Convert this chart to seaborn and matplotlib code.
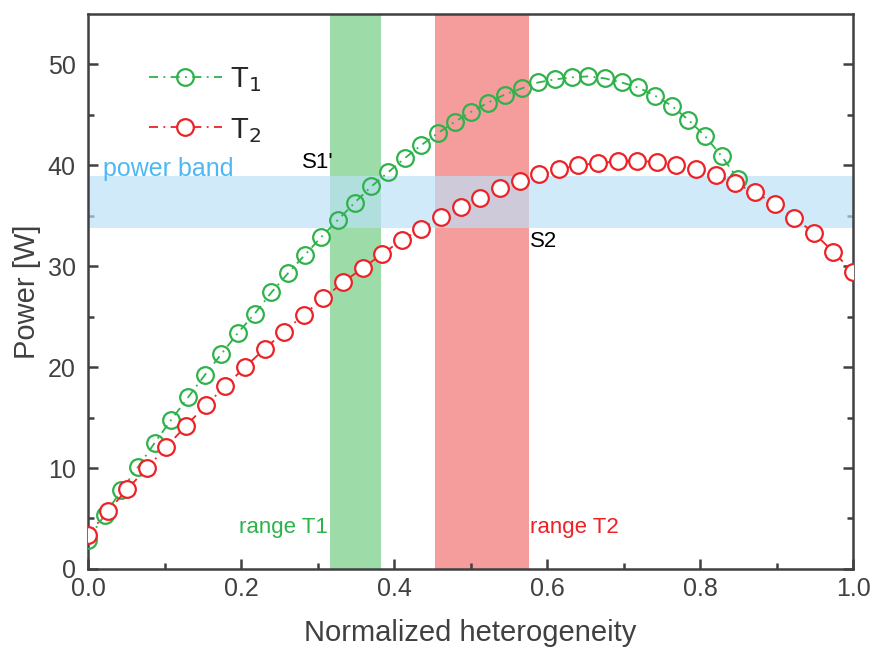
import numpy as np
import pandas as pd
import seaborn as sns
import matplotlib.pyplot as plt

# normalized heterogeneity grid for each curve
x_t1 = np.linspace(0.0, 0.85, 40)
x_t2 = np.linspace(0.0, 1.0, 40)

power_t1 = [2.9, 5.35, 7.8, 10.1, 12.5, 14.8, 17.0, 19.2, 21.3, 23.4,
            25.3, 27.4, 29.3, 31.1, 32.9, 34.6, 36.3, 37.9, 39.3, 40.7,
            42.0, 43.2, 44.3, 45.3, 46.2, 47.0, 47.6, 48.2, 48.5, 48.7,
            48.8, 48.6, 48.2, 47.7, 46.9, 45.9, 44.5, 42.9, 40.9, 38.6]
power_t2 = [3.4, 5.7, 7.9, 10.0, 12.1, 14.2, 16.2, 18.1, 20.0, 21.8,
            23.5, 25.2, 26.8, 28.4, 29.8, 31.2, 32.6, 33.7, 34.9, 35.9,
            36.8, 37.7, 38.4, 39.1, 39.6, 40.0, 40.2, 40.4, 40.45, 40.3,
            40.0, 39.6, 39.05, 38.2, 37.3, 36.2, 34.8, 33.3, 31.4, 29.4]

power_band = (33.8, 38.9)
range_t1 = (0.316, 0.383)
range_t2 = (0.453, 0.576)

df1 = pd.DataFrame({"x": x_t1, "P": power_t1})
df2 = pd.DataFrame({"x": x_t2, "P": power_t2})

sns.set_theme(style="ticks")
plt.rcParams['font.family'] = ['Liberation Sans', 'DejaVu Sans']
dark = "#404040"
green = "#2eb24b"
red = "#ec2227"

fig = plt.figure(figsize=(8.74, 6.57), dpi=100)
ax = fig.add_axes([0.1007, 0.134, 0.8753, 0.845])

ax.axvspan(*range_t1, color="#3cba54", alpha=0.5, lw=0, zorder=0)
ax.axvspan(*range_t2, color="#ec3b3b", alpha=0.5, lw=0, zorder=0)
ax.axhspan(*power_band, color="#bbe1f9", alpha=0.67, lw=0, zorder=1)

sns.lineplot(data=df1, x="x", y="P", ax=ax, color=green, lw=1.3,
             dashes=False, linestyle=(0, (5, 3, 1, 3)), marker="o", markersize=12,
             markerfacecolor="none", markeredgecolor=green, markeredgewidth=1.6,
             label="T$_1$", zorder=3)
sns.lineplot(data=df2, x="x", y="P", ax=ax, color=red, lw=1.3,
             dashes=False, linestyle=(0, (5, 3, 1, 3)), marker="o", markersize=12,
             markerfacecolor="white", markeredgecolor=red, markeredgewidth=1.6,
             label="T$_2$", zorder=3)

ax.set_xlim(0, 1.0)
ax.set_ylim(0, 55)
ax.set_xticks([0.0, 0.2, 0.4, 0.6, 0.8, 1.0])
ax.set_xticks(np.arange(0.1, 1.0, 0.2), minor=True)
ax.set_yticks([0, 10, 20, 30, 40, 50])
ax.set_yticks([5, 15, 25, 35, 45], minor=True)
ax.xaxis.set_major_formatter(plt.FormatStrFormatter('%.1f'))

for s in ax.spines.values():
    s.set_visible(True)
    s.set_color(dark)
    s.set_linewidth(1.8)
ax.tick_params(which="both", direction="in", color=dark, width=1.8,
               right=True, top=False, labelsize=18, labelcolor=dark)
ax.tick_params(axis="x", pad=6)
ax.tick_params(axis="y", pad=9)
ax.tick_params(which="major", length=7)
ax.tick_params(which="minor", length=4)

ax.set_xlabel("Normalized heterogeneity", fontsize=21, color=dark, labelpad=13)
ax.set_ylabel("Power [W]", fontsize=21, color=dark, labelpad=5)

ax.text(0.02, 39.6, "power band", color="#4db8f5", fontsize=18, va="center", ha="left")
ax.text(0.321, 40.3, "S1'", color="black", fontsize=16, va="center", ha="right")
ax.text(0.578, 32.4, "S2", color="black", fontsize=16, va="center", ha="left")
ax.text(0.313, 4.1, "range T1", color=green, fontsize=16, va="center", ha="right")
ax.text(0.578, 4.1, "range T2", color=red, fontsize=16, va="center", ha="left")

leg = ax.legend(loc="upper left", bbox_to_anchor=(0.045, 0.955), frameon=False,
                fontsize=21, handlelength=2.5, handletextpad=0.3, labelspacing=0.75)

fig.savefig("out.png", dpi=100)
